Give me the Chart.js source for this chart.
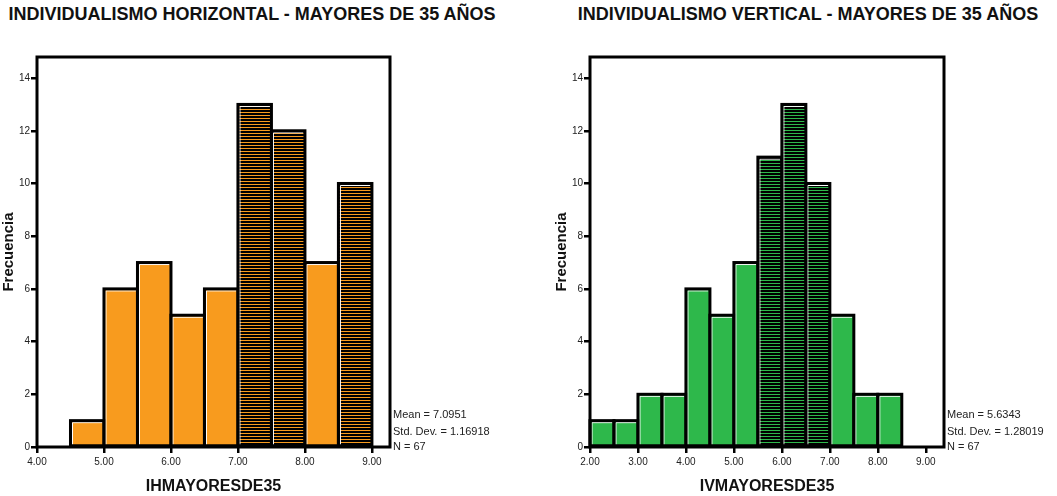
<!DOCTYPE html>
<html><head><meta charset="utf-8">
<script src="https://cdn.jsdelivr.net/npm/chart.js@4"></script>
<style>
body{margin:0;background:#fff;width:1057px;height:496px;overflow:hidden;position:relative;font-family:"Liberation Sans",Arial,sans-serif;}
.t{position:absolute;top:4px;font-weight:bold;font-size:18px;line-height:21px;white-space:nowrap;transform:translateX(-50%);color:#111}
canvas{position:absolute;top:0}
</style></head><body>
<div class="t" style="left:252px">INDIVIDUALISMO HORIZONTAL - MAYORES DE 35 AÑOS</div>
<div class="t" style="left:808px">INDIVIDUALISMO VERTICAL - MAYORES DE 35 AÑOS</div>
<canvas id="c1" width="530" height="496" style="left:0"></canvas>
<canvas id="c2" width="527" height="496" style="left:530px"></canvas>
<script>
// ---- data ----
const ihBinCenters = [4.75, 5.25, 5.75, 6.25, 6.75, 7.25, 7.75, 8.25, 8.75];
const ihCounts     = [1, 6, 7, 5, 6, 13, 12, 7, 10];
const ihHatched    = [false, false, false, false, false, true, true, false, true];
const ihStats      = ['Mean = 7.0951', 'Std. Dev. = 1.16918', 'N = 67'];

const ivBinCenters = [2.25, 2.75, 3.25, 3.75, 4.25, 4.75, 5.25, 5.75, 6.25, 6.75, 7.25, 7.75, 8.25];
const ivCounts     = [1, 1, 2, 2, 6, 5, 7, 11, 13, 10, 5, 2, 2];
const ivHatched    = [false, false, false, false, false, false, false, true, true, true, false, false, false];
const ivStats      = ['Mean = 5.6343', 'Std. Dev. = 1.28019', 'N = 67'];

const yLabel = 'Frecuencia';
const ihXLabel = 'IHMAYORESDE35';
const ivXLabel = 'IVMAYORESDE35';

// ---- helpers ----
const FONT = '"Liberation Sans", Arial, sans-serif';
function stripe(color){
  const c = document.createElement('canvas'); c.width = 4; c.height = 3;
  const g = c.getContext('2d');
  g.fillStyle = '#000'; g.fillRect(0,0,4,3);
  g.fillStyle = color; g.fillRect(0,1,4,1);
  return g.createPattern(c, 'repeat');
}

const outline = {
  id: 'outline',
  afterDatasetsDraw(chart, args, opts){
    const ctx = chart.ctx;
    const meta = chart.getDatasetMeta(0);
    ctx.save();
    meta.data.forEach(b => {
      const {x, y, base, width} = b.getProps(['x','y','base','width'], true);
      const l = x - width/2, r = x + width/2;
      ctx.strokeStyle = '#fff'; ctx.lineWidth = 1;
      ctx.beginPath(); ctx.moveTo(l+2, base); ctx.lineTo(l+2, y+2); ctx.lineTo(r-1.5, y+2); ctx.stroke();
      ctx.strokeStyle = '#000'; ctx.lineWidth = 3;
      ctx.strokeRect(l, y, width, base - y);
    });
    const a = chart.chartArea;
    ctx.lineWidth = 3; ctx.strokeStyle = '#000';
    ctx.strokeRect(a.left, a.top, a.right - a.left, a.bottom - a.top);
    ctx.fillStyle = '#222';
    ctx.font = '11px ' + FONT;
    ctx.textBaseline = 'middle'; ctx.textAlign = 'left';
    const lines = opts.stats || [];
    const offs = [-32, -15, 0];
    lines.forEach((s, i) => ctx.fillText(s, a.right + 3, a.bottom + offs[i]));
    ctx.restore();
  }
};

function makeChart(id, centers, counts, hatched, color, xmin, xmax, xLabel, stats, pad){
  const pat = stripe(color);
  return new Chart(document.getElementById(id), {
    type: 'bar',
    data: {
      datasets: [{
        data: centers.map((c, i) => ({x: c, y: counts[i]})),
        backgroundColor: hatched.map(h => h ? pat : color),
        borderWidth: 0,
        barPercentage: 1,
        categoryPercentage: 1
      }]
    },
    options: {
      responsive: false,
      animation: false,
      layout: {padding: pad},
      plugins: {legend: {display: false}, tooltip: {enabled: false}, outline: {stats}},
      scales: {
        x: {
          type: 'linear', min: xmin, max: xmax, offset: false,
          grid: {drawOnChartArea: false, drawTicks: true, tickLength: 6, color: '#000', lineWidth: 2.5, offset: false},
          border: {display: false},
          ticks: {stepSize: 1, includeBounds: false, autoSkip: false, maxRotation: 0, padding: 3,
                  color: '#222', font: {family: FONT, size: 10},
                  callback: v => Number(v).toFixed(2)},
          title: {display: true, text: xLabel, color: '#111', padding: 0,
                  font: {family: FONT, size: 16, weight: 'bold'}},
          afterFit: s => { s.height = 49; }
        },
        y: {
          min: 0, max: 14.8,
          grid: {drawOnChartArea: false, drawTicks: true, tickLength: 6, color: '#000', lineWidth: 2.5},
          border: {display: false},
          ticks: {stepSize: 2, includeBounds: false, padding: 1, color: '#222', font: {family: FONT, size: 10}},
          title: {display: true, text: yLabel, color: '#111', padding: 0,
                  font: {family: FONT, size: 15, weight: 'bold'}},
          afterFit: s => { s.width = 37; }
        }
      }
    },
    plugins: [outline]
  });
}

makeChart('c1', ihBinCenters, ihCounts, ihHatched, '#F89B1E', 4, 9.27, ihXLabel, ihStats,
          {left: 0, top: 57, right: 140, bottom: 0});
makeChart('c2', ivBinCenters, ivCounts, ivHatched, '#2EB84B', 2, 9.38, ivXLabel, ivStats,
          {left: 23, top: 57, right: 113, bottom: 0});
</script>
</body></html>
